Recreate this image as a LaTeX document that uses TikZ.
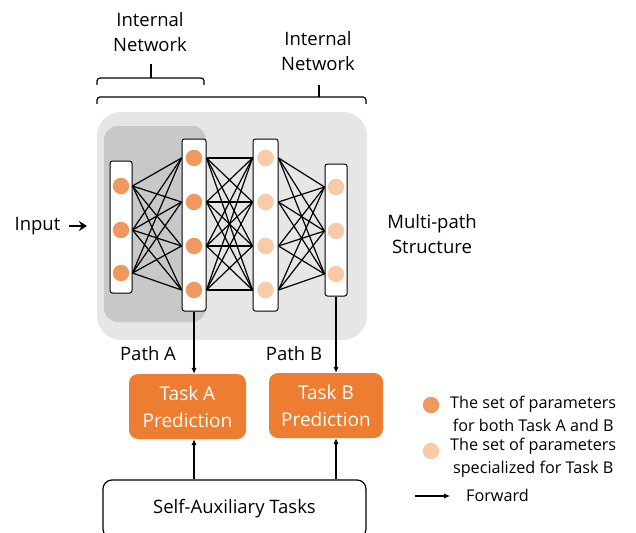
\documentclass[tikz,border=0pt]{standalone}
\usepackage{fontspec}
\setmainfont{Open Sans}
\usetikzlibrary{arrows.meta}
\definecolor{shared}{HTML}{F0985E}
\definecolor{special}{HTML}{F8CAA8}
\definecolor{taskor}{HTML}{ED7D31}
\definecolor{bglight}{HTML}{E6E6E6}
\definecolor{bgdark}{HTML}{C8C8C8}
\begin{document}
\begin{tikzpicture}[x=1pt,y=-1pt,
  lbl/.style={font=\fontsize{18.5}{25}\selectfont, align=center, inner sep=0pt},
  leg/.style={font=\fontsize{16.2}{23}\selectfont, align=center, inner sep=0pt},
  bar/.style={draw=black, line width=1pt, fill=white, rounded corners=2.5pt, inner sep=0pt},
  neuron/.style={circle, inner sep=0pt, minimum size=16.5pt},
  link/.style={line width=1.2pt},
  flow/.style={line width=1.6pt, -{Latex[length=6pt,width=5.5pt]}},
  taskbox/.style={fill=taskor, rounded corners=9pt, text=white, font=\fontsize{19}{27}\selectfont, align=center, inner sep=0pt},
  brace/.style={line width=1.2pt, rounded corners=3pt}]
\useasboundingbox (0,0) rectangle (636,532);
% backgrounds
\node[fill=bglight, rounded corners=24pt, minimum width=270pt, minimum height=228pt, inner sep=0pt] (bgl) at (232,226) {};
\node[fill=bgdark, rounded corners=14pt, minimum width=102pt, minimum height=196pt, inner sep=0pt] (bgd) at (155,224) {};
% bars
\node[bar, minimum width=22pt, minimum height=132pt] (b1) at (121,227) {};
\node[bar, minimum width=24pt, minimum height=172pt] (b2) at (194,225) {};
\node[bar, minimum width=25pt, minimum height=172pt] (b3) at (265.5,225) {};
\node[bar, minimum width=22pt, minimum height=132pt] (b4) at (336,230) {};
% neurons
\foreach \i/\y in {1/186,2/230,3/273} \node[neuron, fill=shared] (a\i) at (121,\y) {};
\foreach \i/\y in {1/158,2/202,3/246,4/290} \node[neuron, fill=shared] (p\i) at (194,\y) {};
\foreach \i/\y in {1/158,2/202,3/246,4/290} \node[neuron, fill=special] (q\i) at (265.5,\y) {};
\foreach \i/\y in {1/187,2/231,3/274} \node[neuron, fill=special] (r\i) at (336,\y) {};
% links
\foreach \i in {1,2,3} \foreach \j in {1,2,3,4}
  \draw[link] (b1.east |- a\i) -- (b2.west |- p\j);
\foreach \i in {1,2,3,4} \foreach \j in {1,2,3,4}
  \draw[link] (b2.east |- p\i) -- (b3.west |- q\j);
\foreach \i in {1,2,3,4} \foreach \j in {1,2,3}
  \draw[link] (b3.east |- q\i) -- (b4.west |- r\j);
% task boxes
\node[taskbox, minimum width=117pt, minimum height=65pt] (ta) at (187.5,406.5) {Task A\\Prediction};
\node[taskbox, minimum width=114pt, minimum height=65pt] (tb) at (326,405.5) {Task B\\Prediction};
\node[draw=black, line width=1.2pt, fill=white, rounded corners=9pt, minimum width=263pt, minimum height=58pt, inner sep=0pt, font=\fontsize{18.5}{22}\selectfont] (sa) at (234.5,509) {Self-Auxiliary Tasks};
% forward arrows
\draw[flow] (b2.south) -- (b2.south |- ta.north);
\draw[flow] (b4.south) -- (b4.south |- tb.north);
\draw[flow] (sa.north -| b2.south) -- (ta.south -| b2.south);
\draw[flow] (sa.north -| b4.south) -- (tb.south -| b4.south);
% labels
\node[lbl] (pa) at (148,354) {Path A};
\node[lbl] (pb) at (294,354) {Path B};
\node[lbl] (inp) at (37.5,226) {Input};
\coordinate (inpe) at (87,226);
\coordinate (inps) at (69,226);
\draw[line width=2.2pt, -{Stealth[length=8pt,width=10pt]}] (inps) -- (inpe);
\node[lbl] (mp) at (432,234.5) {Multi-path\\Structure};
% braces
\node[lbl] (in1) at (150,32.5) {Internal\\Network};
\node[lbl] (in2) at (318,51.5) {Internal\\Network};
\draw[brace] (97,85) -- (97,78) -- (204,78) -- (204,85);
\draw[line width=1.2pt] (151,78) -- (151,64);
\draw[brace] (97,104) -- (97,97) -- (366,97) -- (366,104);
\draw[line width=1.2pt] (319,97) -- (319,85);
% legend
\node[neuron, fill=shared] (l1) at (431,405) {};
\node[neuron, fill=special] (l2) at (431,451) {};
\node[leg, anchor=west] (t1) at (450,413.5) {The set of parameters\\for both Task A and B};
\node[leg, anchor=west] (t2) at (450,458) {The set of parameters\\specialized for Task B};
\coordinate (fa) at (415,496);
\coordinate (fb) at (450,496);
\draw[line width=1.6pt, -{Latex[length=6pt,width=5.5pt]}] (fa) -- (fb);
\node[leg, anchor=west] (fw) at (466,495) {Forward};
\end{tikzpicture}
\end{document}
